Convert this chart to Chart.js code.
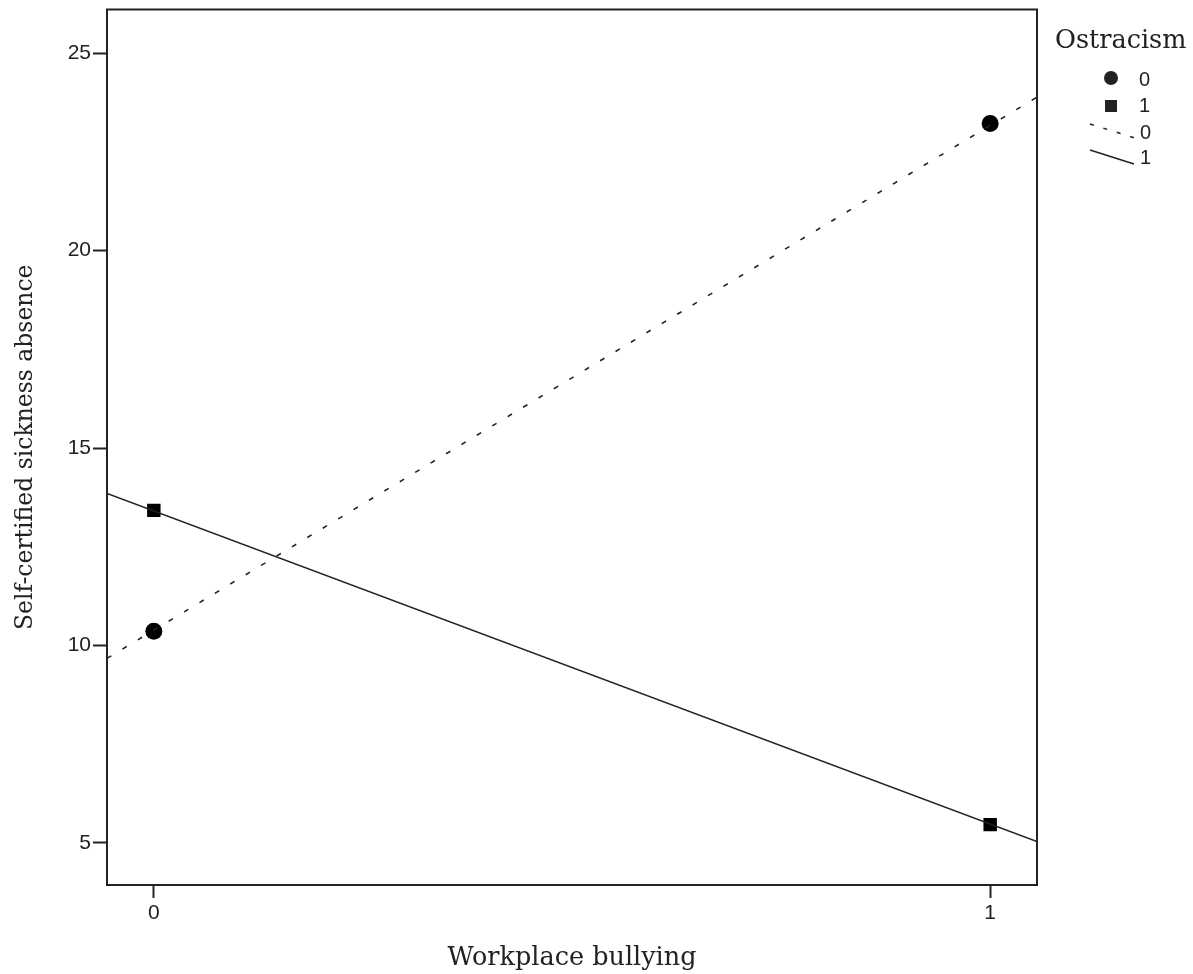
<!DOCTYPE html>
<html>
<head>
<meta charset="utf-8">
<script src="https://cdn.jsdelivr.net/npm/chart.js@4/dist/chart.umd.min.js"></script>
<style>
  body { margin: 0; background: #fff; }
  #wrap { width: 1193px; height: 974px; }
</style>
</head>
<body>
<div id="wrap"><canvas id="chart"></canvas></div>
<script>
// values
const bullying = [0, 1];
const meansOstr0 = [10.36, 23.22];
const meansOstr1 = [13.42, 5.46];
// fit lines, read at the plot edges
const lineX = [-0.056, 1.056];
const fitOstr0 = [9.67, 23.89];
const fitOstr1 = [13.85, 5.03];
const xTicks = [0, 1];
const yTicks = [5, 10, 15, 20, 25];

const serif = '"DejaVu Serif", "Liberation Serif", serif';
const sans = '"Liberation Sans", Arial, sans-serif';
const ink = '#222';

const toPts = (xs, ys) => xs.map((x, i) => ({ x: x, y: ys[i] }));

const frame = {
  id: 'frame',
  afterDraw(chart) {
    const ctx = chart.ctx;
    const a = chart.chartArea;
    ctx.save();
    ctx.strokeStyle = ink;
    ctx.lineWidth = 2;
    ctx.strokeRect(a.left, a.top, a.right - a.left, a.bottom - a.top);

    // legend
    ctx.fillStyle = ink;
    ctx.textBaseline = 'middle';
    ctx.font = '25.5px ' + serif;
    ctx.textAlign = 'left';
    ctx.fillText('Ostracism', 1055, 41);

    ctx.font = '20px ' + sans;
    ctx.beginPath();
    ctx.arc(1111, 78, 7, 0, Math.PI * 2);
    ctx.fill();
    ctx.fillText('0', 1139, 80);
    ctx.fillRect(1105, 100, 12, 12);
    ctx.fillText('1', 1139, 106);

    ctx.lineWidth = 1.5;
    ctx.strokeStyle = ink;
    ctx.setLineDash([4, 10]);
    ctx.beginPath();
    ctx.moveTo(1090, 124);
    ctx.lineTo(1135, 138);
    ctx.stroke();
    ctx.setLineDash([]);
    ctx.fillText('0', 1140, 133);
    ctx.beginPath();
    ctx.moveTo(1090, 150);
    ctx.lineTo(1134, 164);
    ctx.stroke();
    ctx.fillText('1', 1140, 158);
    ctx.restore();
  }
};

new Chart(document.getElementById('chart'), {
  type: 'scatter',
  data: {
    datasets: [
      {
        type: 'line',
        data: toPts(lineX, fitOstr0),
        borderColor: ink,
        borderWidth: 1.6,
        borderDash: [5, 13],
        pointRadius: 0,
        fill: false
      },
      {
        type: 'line',
        data: toPts(lineX, fitOstr1),
        borderColor: ink,
        borderWidth: 1.6,
        pointRadius: 0,
        fill: false
      },
      {
        data: toPts(bullying, meansOstr0),
        pointStyle: 'circle',
        pointRadius: 8.5,
        backgroundColor: '#000',
        borderColor: '#000',
        borderWidth: 0
      },
      {
        data: toPts(bullying, meansOstr1),
        pointStyle: 'rect',
        pointRadius: 9.5,
        backgroundColor: '#000',
        borderColor: '#000',
        borderWidth: 0
      }
    ]
  },
  options: {
    responsive: true,
    maintainAspectRatio: false,
    animation: false,
    layout: { padding: { top: 8, right: 156, left: 0, bottom: 0 } },
    plugins: {
      legend: { display: false },
      tooltip: { enabled: false }
    },
    scales: {
      x: {
        type: 'linear',
        min: lineX[0],
        max: lineX[1],
        afterBuildTicks: s => { s.ticks = xTicks.map(v => ({ value: v })); },
        afterFit: s => { s.height = 89; s.paddingLeft = 0; s.paddingRight = 0; },
        grid: { drawOnChartArea: false, drawTicks: true, tickLength: 13, tickWidth: 2, color: ink },
        border: { display: true, color: ink, width: 2 },
        ticks: { color: ink, font: { family: sans, size: 21 }, padding: 3 },
        title: {
          display: true,
          text: 'Workplace bullying',
          color: ink,
          font: { family: serif, size: 25.5 },
          padding: { top: 16, bottom: 0 }
        }
      },
      y: {
        min: 3.93,
        max: 26.11,
        afterBuildTicks: s => { s.ticks = yTicks.map(v => ({ value: v })); },
        afterFit: s => { s.width = 107; s.paddingTop = 0; s.paddingBottom = 0; },
        grid: { drawOnChartArea: false, drawTicks: true, tickLength: 14, tickWidth: 2, color: ink },
        border: { display: true, color: ink, width: 2 },
        ticks: { color: ink, font: { family: sans, size: 21 }, padding: 2 },
        title: {
          display: true,
          text: 'Self-certified sickness absence',
          color: ink,
          font: { family: serif, size: 23.5 },
          padding: { top: 12, bottom: 10 }
        }
      }
    }
  },
  plugins: [frame]
});
</script>
</body>
</html>
